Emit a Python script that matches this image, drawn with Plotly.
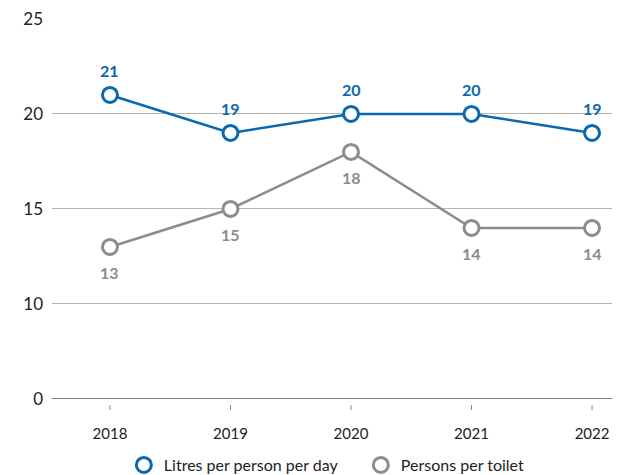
import plotly.graph_objects as go

years = [2018, 2019, 2020, 2021, 2022]
litres = [21, 19, 20, 20, 19]
persons = [13, 15, 18, 14, 14]
ytick_vals = [5, 10, 15, 20, 25]
ytick_text = ["0", "10", "15", "20", "25"]

BLUE = "#0a68b0"
GRAY = "#8c8c8c"
FONT = "Lato"

fig = go.Figure()
fig.add_trace(go.Scatter(
    x=years, y=litres, mode="lines+markers", showlegend=False,
    line=dict(color=BLUE, width=2.5),
    marker=dict(symbol="circle", size=15, color="white", line=dict(color=BLUE, width=3)),
    cliponaxis=False,
))
fig.add_trace(go.Scatter(
    x=years, y=persons, mode="lines+markers", showlegend=False,
    line=dict(color=GRAY, width=2.5),
    marker=dict(symbol="circle", size=15, color="white", line=dict(color=GRAY, width=3)),
    cliponaxis=False,
))
# legend-only traces
fig.add_trace(go.Scatter(
    x=[None], y=[None], mode="markers", name="Litres per person per day",
    marker=dict(symbol="circle", size=15, color="white", line=dict(color=BLUE, width=3)),
))
fig.add_trace(go.Scatter(
    x=[None], y=[None], mode="markers", name="Persons per toilet",
    marker=dict(symbol="circle", size=15, color="white", line=dict(color=GRAY, width=3)),
))

for x, v in zip(years, litres):
    fig.add_annotation(x=x, y=v, text=f"<b>{v}</b>", showarrow=False, yshift=24,
                       font=dict(color=BLUE, size=16, family=FONT))
for x, v in zip(years, persons):
    fig.add_annotation(x=x, y=v, text=f"<b>{v}</b>", showarrow=False, yshift=-26,
                       font=dict(color=GRAY, size=16, family=FONT))

shapes = [dict(type="line", xref="paper", yref="y", x0=0, x1=1, y0=5, y1=5,
               line=dict(color="#7a7a7a", width=2), layer="above")]
for x in years:
    shapes.append(dict(type="line", xref="x", yref="paper", x0=x, x1=x, y0=-0.016, y1=-0.029,
                       line=dict(color="#888888", width=1)))

fig.update_layout(
    width=612, height=467,
    margin=dict(l=44, r=0, t=10, b=76, autoexpand=False),
    paper_bgcolor="white", plot_bgcolor="white",
    font=dict(family=FONT, size=16, color="#222222"),
    showlegend=True,
    legend=dict(orientation="h", x=0.1265, xanchor="left",
                yref="container", y=0.0214, yanchor="middle",
                font=dict(size=16, color="#222222", family=FONT), itemwidth=30,
                entrywidth=192, tracegroupgap=0),
    xaxis=dict(
        range=[2017.519, 2022.232], tickvals=years, ticktext=[str(y) for y in years],
        showgrid=False, zeroline=False, automargin=False,
        showline=False, ticks="", ticklabelstandoff=24,
        tickfont=dict(size=15, color="#222222", family=FONT),
    ),
    yaxis=dict(
        range=[5, 25.05], tickvals=ytick_vals, ticktext=ytick_text, automargin=False,
        showgrid=True, gridcolor="#b5b5b5", gridwidth=1, zeroline=False,
        showline=False, ticks="", ticklabelstandoff=8, ticklabeloverflow="allow",
        tickfont=dict(size=17, color="#222222", family=FONT),
    ),
    shapes=shapes,
)

fig.write_html("out.html")
